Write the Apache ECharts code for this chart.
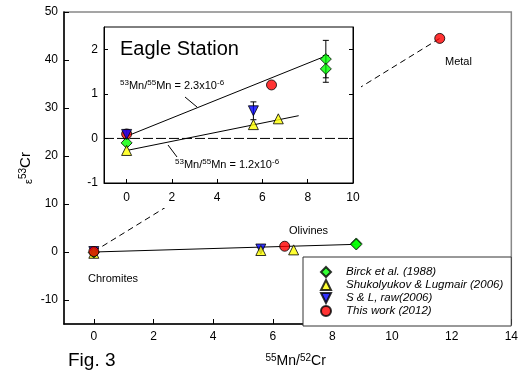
<!DOCTYPE html>
<html>
<head>
<meta charset="utf-8">
<script src="https://cdn.jsdelivr.net/npm/echarts@6/dist/echarts.min.js"></script>
<style>
  html, body { margin: 0; padding: 0; background: #fff; }
  #chart { width: 521px; height: 373px; }
</style>
</head>
<body>
<div id="chart"></div>
<script>
// data: [55Mn/52Cr, e53Cr]
var birck = [[0, -0.1], [8.8, 1.78], [8.8, 1.56]];
var shukolyukov = [[0, -0.27], [5.6, 0.31], [6.7, 0.44]];
var slRaw = [[0, 0.09], [5.6, 0.62]];
var thisWork = [[0, 0.1], [6.4, 1.2], [11.6, 44.5]];
// error bars [x, y, half-width]
var slErr = [[0, 0.09, 0.1], [5.6, 0.62, 0.2]];
var birckErr = [[8.8, 1.78, 0.42], [8.8, 1.56, 0.3]];
// isochron lines (inset) and olivine line (main)
var iso23 = [[0.1, 0.07], [8.7, 1.83]];
var iso12 = [[0.1, -0.26], [7.6, 0.51]];
var olivineLine = [[0, 0], [8.8, 1.6]];
var zeroLine = [[-1, 0], [10, 0]];
// ticks
var mainXTicks = [0, 2, 4, 6, 8, 10, 12, 14];
var mainYTicks = [-10, 0, 10, 20, 30, 40, 50];
var insetXTicks = [0, 2, 4, 6, 8, 10];
var insetYTicks = [-1, 0, 1, 2];

var FONT = 'Liberation Sans, Arial, sans-serif';
var names = ['Birck et al. (1988)', 'Shukolyukov & Lugmair (2006)', 'S & L, raw(2006)', 'This work (2012)'];
var downTri = 'path://M0,0 L10,0 L5,10 Z';

var myChart = echarts.init(document.getElementById('chart'));

function markers(xi, yi, z) {
  return [
    { name: names[2], type: 'scatter', xAxisIndex: xi, yAxisIndex: yi, z: z, data: slRaw,
      symbol: downTri, symbolSize: 10, itemStyle: { color: '#0000ff', borderColor: '#000', borderWidth: 1 } },
    { name: names[1], type: 'scatter', xAxisIndex: xi, yAxisIndex: yi, z: z, data: shukolyukov,
      symbol: 'triangle', symbolSize: 10, itemStyle: { color: '#ffff00', borderColor: '#000', borderWidth: 1 } },
    { name: names[0], type: 'scatter', xAxisIndex: xi, yAxisIndex: yi, z: z, data: birck,
      symbol: 'diamond', symbolSize: 11, itemStyle: { color: '#00ff00', borderColor: '#000', borderWidth: 1 } },
    { name: names[3], type: 'scatter', xAxisIndex: xi, yAxisIndex: yi, z: z, data: thisWork,
      symbol: 'circle', symbolSize: 10, itemStyle: { color: '#ff0000', borderColor: '#000', borderWidth: 1 } }
  ];
}

function errBar(data) {
  return {
    type: 'custom', xAxisIndex: 1, yAxisIndex: 1, z: 53, data: data,
    encode: { x: 0, y: 1 },
    renderItem: function (params, api) {
      var x = api.value(0), y = api.value(1), e = api.value(2);
      var t = api.coord([x, y + e]), b = api.coord([x, y - e]);
      var st = { stroke: '#000', lineWidth: 1 };
      return { type: 'group', children: [
        { type: 'line', shape: { x1: t[0], y1: t[1], x2: b[0], y2: b[1] }, style: st },
        { type: 'line', shape: { x1: t[0] - 3, y1: t[1], x2: t[0] + 3, y2: t[1] }, style: st },
        { type: 'line', shape: { x1: b[0] - 3, y1: b[1], x2: b[0] + 3, y2: b[1] }, style: st }
      ]};
    }
  };
}

function lineSeries(data, xi, yi, z, type, width) {
  return { type: 'line', xAxisIndex: xi, yAxisIndex: yi, z: z, data: data, symbol: 'none',
    silent: true, lineStyle: { color: '#000', width: width || 1, type: type || 'solid' } };
}

var supRich = {
  n: { fontSize: 11, fontFamily: FONT, color: '#000', lineHeight: 14 },
  s: { fontSize: 8, fontFamily: FONT, color: '#000', verticalAlign: 'top', lineHeight: 14 }
};

var option = {
  animation: false,
  backgroundColor: '#fff',
  grid: [
    { left: 64, top: 12, width: 451, height: 317, show: true, borderColor: '#888', borderWidth: 1.5 },
    { left: 104, top: 27, width: 249, height: 156, show: true, borderColor: '#000', borderWidth: 1, z: 51 }
  ],
  xAxis: [
    { gridIndex: 0, type: 'value', min: -1, max: 14,
      axisLine: { onZero: false, lineStyle: { color: '#000', width: 1.5 } },
      axisTick: { inside: true, length: 5, customValues: mainXTicks, lineStyle: { color: '#000' } },
      axisLabel: { customValues: mainXTicks, fontSize: 12, color: '#000', fontFamily: FONT, margin: 7 },
      splitLine: { show: false },
      name: '{s|55}{n|Mn/}{s|52}{n|Cr}', nameLocation: 'middle', nameGap: 29,
      nameTextStyle: { padding: [0, 0, 0, 16], rich: {
        n: { fontSize: 14, fontFamily: FONT, color: '#000', lineHeight: 16 },
        s: { fontSize: 10, fontFamily: FONT, color: '#000', verticalAlign: 'top', lineHeight: 16 } } } },
    { gridIndex: 1, type: 'value', min: -1, max: 10, z: 52,
      axisLine: { onZero: false, lineStyle: { color: '#000', width: 1 } },
      axisTick: { inside: true, length: 4, customValues: insetXTicks, lineStyle: { color: '#000' } },
      axisLabel: { customValues: insetXTicks, fontSize: 12, color: '#000', fontFamily: FONT, margin: 9 },
      splitLine: { show: false } }
  ],
  yAxis: [
    { gridIndex: 0, type: 'value', min: -15, max: 50,
      axisLine: { onZero: false, lineStyle: { color: '#000', width: 1.5 } },
      axisTick: { inside: true, length: 5, customValues: mainYTicks, lineStyle: { color: '#000' } },
      axisLabel: { customValues: mainYTicks, fontSize: 12, color: '#000', fontFamily: FONT, margin: 6 },
      splitLine: { show: false },
      name: '{e|ε}{s|53}{n|Cr}', nameLocation: 'middle', nameGap: 30, nameRotate: 90,
      nameMoveOverlap: false,
      nameTextStyle: { rich: {
        e: { fontSize: 11, fontFamily: FONT, color: '#000', lineHeight: 16, verticalAlign: 'bottom' },
        n: { fontSize: 15, fontFamily: FONT, color: '#000', lineHeight: 16 },
        s: { fontSize: 10, fontFamily: FONT, color: '#000', verticalAlign: 'top', lineHeight: 16 } } } },
    { gridIndex: 1, type: 'value', min: -1, max: 2.5, z: 52,
      axisLine: { onZero: false, lineStyle: { color: '#000', width: 1 } },
      axisTick: { inside: true, length: 4, customValues: insetYTicks, lineStyle: { color: '#000' } },
      axisLabel: { customValues: insetYTicks, fontSize: 12, color: '#000', fontFamily: FONT, margin: 6 },
      splitLine: { show: false } },
    { gridIndex: 1, type: 'value', position: 'right', min: -1, max: 2.5, z: 52,
      axisLine: { onZero: false, lineStyle: { color: '#000', width: 1 } },
      axisTick: { inside: true, length: 4, customValues: insetYTicks, lineStyle: { color: '#000' } },
      axisLabel: { show: false },
      splitLine: { show: false } }
  ],
  legend: {
    orient: 'vertical', left: 303, top: 257, z: 60,
    data: names, itemWidth: 10, itemHeight: 10, itemGap: 1,
    padding: [9, 8, 9, 17],
    backgroundColor: '#fff', borderColor: '#333', borderWidth: 1,
    textStyle: { fontStyle: 'italic', fontSize: 11.5, lineHeight: 11, fontFamily: FONT, color: '#000', padding: [0, 0, 0, 10] }
  },
  graphic: { elements: [
    { type: 'rect', shape: { x: 86, y: 20, width: 275, height: 188 }, style: { fill: '#fff' }, z: 50, silent: true },
    { type: 'text', left: 120, top: 39, z: 55, style: { text: 'Eagle Station', font: '20px ' + FONT, fill: '#000' } },
    { type: 'text', left: 120, top: 79, z: 55, style: { text: '{s|53}{n|Mn/}{s|55}{n|Mn = 2.3x10}{s|-6}', rich: supRich } },
    { type: 'line', z: 55, shape: { x1: 185, y1: 97, x2: 197, y2: 107 }, style: { stroke: '#000', lineWidth: 1 } },
    { type: 'text', left: 175, top: 158, z: 55, style: { text: '{s|53}{n|Mn/}{s|55}{n|Mn = 1.2x10}{s|-6}', rich: supRich } },
    { type: 'line', z: 55, shape: { x1: 168, y1: 145, x2: 177, y2: 157 }, style: { stroke: '#000', lineWidth: 1 } },
    { type: 'text', left: 445, top: 56, style: { text: 'Metal', font: '11px ' + FONT, fill: '#000' } },
    { type: 'text', left: 289, top: 225, style: { text: 'Olivines', font: '11px ' + FONT, fill: '#000' } },
    { type: 'text', left: 88, top: 273, style: { text: 'Chromites', font: '11px ' + FONT, fill: '#000' } },
    { type: 'text', left: 68, top: 351, style: { text: 'Fig. 3', font: '19px ' + FONT, fill: '#000' } }
  ] },
  series: [
    // main panel
    lineSeries([thisWork[0], thisWork[2]], 0, 0, 2, [6, 4]),
    lineSeries(olivineLine, 0, 0, 2)
  ].concat(markers(0, 0, 3)).concat([
    // inset
    errBar(slErr),
    errBar(birckErr),
    lineSeries(iso23, 1, 1, 53),
    lineSeries(iso12, 1, 1, 53),
    lineSeries(zeroLine, 1, 1, 53, [10, 3])
  ]).concat((function () {
    var s = markers(1, 1, 54);
    // inset: red below the others at the origin
    return [s[3], s[2], s[1], s[0]];
  })())
};

myChart.setOption(option);
window.addEventListener('resize', function () { myChart.resize(); });
</script>
</body>
</html>
